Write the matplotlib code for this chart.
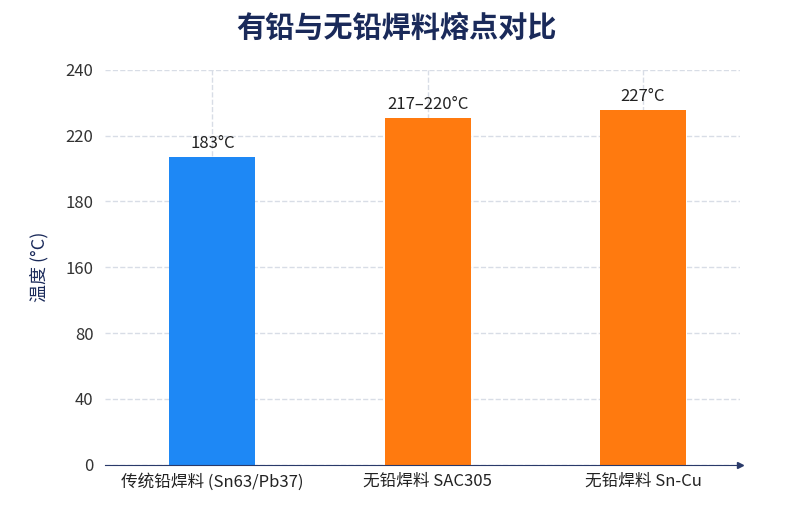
import numpy as np
import matplotlib.pyplot as plt

plt.rcParams['font.family'] = ['Noto Sans CJK SC', 'DejaVu Sans']

categories = ['传统铅焊料 (Sn63/Pb37)', '无铅焊料 SAC305', '无铅焊料 Sn-Cu']
# bar heights in tick-step units (the axis labels are not evenly spaced)
heights = [4.67, 5.27, 5.39]
bar_labels = ['183°C', '217–220°C', '227°C']
colors = ['#1E88F5', '#FF7A0F', '#FF7A0F']
ytick_labels = ['0', '40', '80', '160', '180', '220', '240']

fig = plt.figure(figsize=(7.93, 5.13), dpi=100)
ax = fig.add_axes([0.132, 0.094, 0.801, 0.77])

x = np.arange(len(categories))
ax.bar(x, heights, width=0.4, color=colors, zorder=2)
for xi, h, lab in zip(x, heights, bar_labels):
    ax.text(xi, h + 0.08, lab, ha='center', va='bottom', fontsize=12, color='#222222')

ax.set_xlim(-0.5, 2.45)
ax.set_ylim(0, 6)
ax.set_yticks(range(7))
ax.set_yticklabels(ytick_labels, fontsize=12, color='#333333')
ax.set_xticks(x)
ax.set_xticklabels(categories, fontsize=12, color='#222222')
ax.tick_params(axis='x', length=0, pad=6)
ax.tick_params(axis='y', length=0, pad=8)

ax.grid(True, linestyle='--', color='#d8dde6', linewidth=1, zorder=3)
for s in ['top', 'right']:
    ax.spines[s].set_visible(False)
ax.spines['left'].set_visible(False)
ax.spines['bottom'].set_color('#2a3a6a')
ax.plot(1, 0, '>', color='#2a3a6a', markersize=4, transform=ax.transAxes, clip_on=False)

ax.set_ylabel('温度 (°C)', fontsize=13, color='#1a2a5a', labelpad=12)
fig.suptitle('有铅与无铅焊料熔点对比', fontsize=21, fontweight='bold', color='#1a2a5a', y=0.975)

fig.savefig('out.png', dpi=100)
